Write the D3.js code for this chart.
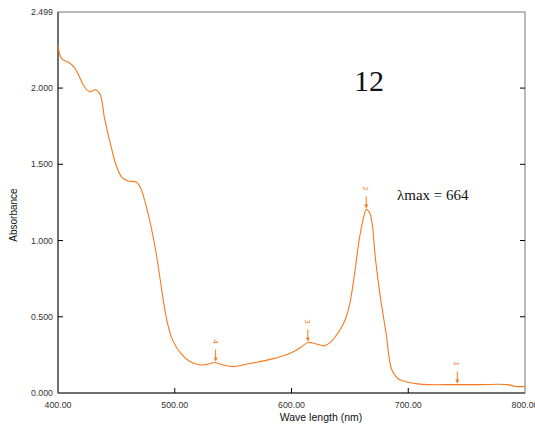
<!DOCTYPE html>
<html><head><meta charset="utf-8">
<script src="https://cdn.jsdelivr.net/npm/d3@7"></script>
<style>body{margin:0;background:#fff}svg{display:block}</style>
</head><body>
<svg id="c" width="535" height="428"></svg>
<script>
const wavelength = [400,403,409,414,418,422,427,432,436,440,446,450,455,460,467,471,475,480,484,488,491,494,498,505,513,522,528,534,541,550,562,573,583,591,602,608,614,620,628,633,638,642,646,650,654,658,662,664,667,669,672,676,681,686,692,699,708,717,740,760,785,792,800];
const absorbance = [2.283,2.195,2.169,2.136,2.08,2.015,1.976,1.989,1.96,1.796,1.599,1.489,1.412,1.39,1.384,1.34,1.24,1.08,0.92,0.72,0.57,0.45,0.35,0.261,0.206,0.184,0.188,0.2,0.185,0.173,0.19,0.206,0.222,0.239,0.272,0.3,0.331,0.325,0.309,0.33,0.375,0.42,0.48,0.59,0.78,1.007,1.16,1.204,1.18,1.116,0.875,0.634,0.393,0.151,0.09,0.072,0.06,0.055,0.055,0.055,0.055,0.043,0.042];
const peakLabels = ["1","2","3","4"];
const peakWavelength = [742,664,614,535];
const peakAbsorbance = [0.055,1.204,0.331,0.2];
const xTicks = [400,500,600,700,800];
const yTicks = [0,0.5,1.0,1.5,2.0,2.499];

const svg = d3.select("#c");
const x = d3.scaleLinear().domain([400,800]).range([58,525]);
const y = d3.scaleLinear().domain([0,2.499]).range([393,12]);
const orange = "#f57a1f";
const font = "Liberation Sans, Arial, sans-serif";

// frame
svg.append("rect").attr("x",x(400)).attr("y",y(2.499)).attr("width",x(800)-x(400)).attr("height",y(0)-y(2.499))
  .attr("fill","none").attr("stroke","#777").attr("stroke-width",1);
svg.append("line").attr("x1",x(400)).attr("x2",x(400)).attr("y1",y(2.499)).attr("y2",y(0)).attr("stroke","#555").attr("stroke-width",1.5);
svg.append("line").attr("x1",x(400)).attr("x2",x(800)).attr("y1",y(0)).attr("y2",y(0)).attr("stroke","#555").attr("stroke-width",1.5);

// y axis ticks (inward) and labels
yTicks.forEach(t => {
  if (t > 0 && t < 2.4) {
    svg.append("line").attr("x1",x(400)).attr("x2",x(400)+5).attr("y1",y(t)).attr("y2",y(t)).attr("stroke","#000");
    svg.append("line").attr("x1",x(800)).attr("x2",x(800)-5).attr("y1",y(t)).attr("y2",y(t)).attr("stroke","#000");
  }
  svg.append("text").attr("x",x(400)-5).attr("y",y(t)+3).attr("text-anchor","end")
    .attr("font-family",font).attr("font-size",8.8).attr("fill","#333").text(d3.format(".3f")(t));
});
xTicks.forEach(t => {
  if (t > 400 && t < 800) {
    svg.append("line").attr("x1",x(t)).attr("x2",x(t)).attr("y1",y(0)).attr("y2",y(0)-5).attr("stroke","#000");
  }
  svg.append("text").attr("x",x(t)).attr("y",y(0)+15).attr("text-anchor","middle")
    .attr("font-family",font).attr("font-size",8.8).attr("fill","#333").text(d3.format(".2f")(t));
});

svg.append("text").attr("x",321).attr("y",421).attr("text-anchor","middle")
  .attr("font-family",font).attr("font-size",10.5).attr("fill","#111").text("Wave length (nm)");
svg.append("text").attr("transform","translate(17,215) rotate(-90)").attr("text-anchor","middle")
  .attr("font-family",font).attr("font-size",10).attr("fill","#111").text("Absorbance");

// curve
const pts = wavelength.map((w,i)=>[w,absorbance[i]]);
svg.append("path").datum(pts)
  .attr("d", d3.line().x(d=>x(d[0])).y(d=>y(d[1])).curve(d3.curveCatmullRom.alpha(0.5)))
  .attr("fill","none").attr("stroke",orange).attr("stroke-width",1.1);

// peak markers
peakLabels.forEach((lab,i) => {
  const px = x(peakWavelength[i]), py = y(peakAbsorbance[i]);
  svg.append("line").attr("x1",px).attr("x2",px).attr("y1",py-13).attr("y2",py-2).attr("stroke",orange).attr("stroke-width",1);
  svg.append("path").attr("d",`M${px-2},${py-5}L${px+2},${py-5}L${px},${py-1}Z`).attr("fill",orange);
  svg.append("text").attr("transform",`translate(${px-3},${py-21}) rotate(90)`).attr("text-anchor","middle")
    .attr("font-family",font).attr("font-size",8).attr("fill",orange).text(lab);
});

svg.append("text").attr("x",369).attr("y",91).attr("text-anchor","middle")
  .attr("font-family","Liberation Serif, Times New Roman, serif").attr("font-size",30).attr("fill","#111").text("12");
svg.append("text").attr("x",397).attr("y",200)
  .attr("font-family","Liberation Serif, Times New Roman, serif").attr("font-size",15).attr("fill","#111").text("λmax = 664");
</script>
</body></html>
